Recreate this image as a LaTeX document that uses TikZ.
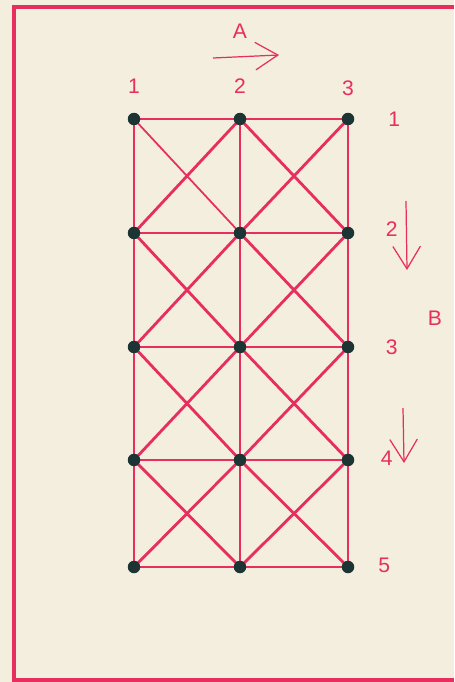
\documentclass[tikz,border=0pt]{standalone}
\usepackage{fontspec}
\setsansfont{Liberation Sans}
\usetikzlibrary{arrows.meta,positioning}

\definecolor{paper}{RGB}{243,238,221}
\definecolor{ink}{RGB}{232,45,95}
\definecolor{joint}{RGB}{28,52,52}

\begin{document}
\begin{tikzpicture}[
    x=0.02cm, y=-0.02cm,
    bar/.style={draw=ink, line width=1.6pt},
    thinbar/.style={draw=ink, line width=1.0pt},
    joint/.style={circle, fill=joint, minimum size=0.25cm, inner sep=0},
    tag/.style={font=\sffamily\large, text=ink},
    sweep/.style={draw=ink, line width=0.7pt, -{Straight Barb[length=4.5mm, width=5.5mm]}}
]

% Paper and frame
\fill[paper] (0,0) rectangle (454,682);
\useasboundingbox (0,0) rectangle (454,682);
\draw[ink, line width=1.8pt] (454,7) -- (14,7) -- (14,680) -- (454,680);

% Joints
\foreach \c/\x in {1/134, 2/240, 3/348} {
    \foreach \r/\y in {1/119, 2/233, 3/347, 4/460, 5/567} {
        \coordinate (p\c\r) at (\x,\y);
    }
}

% Horizontal and vertical bars
\foreach \r in {1,...,5} {
    \draw[bar] (p1\r) -- (p2\r) -- (p3\r);
}
\foreach \c in {1,2,3} {
    \draw[bar] (p\c1) -- (p\c2) -- (p\c3) -- (p\c4) -- (p\c5);
}

% Diagonals (each panel crossed)
\foreach \c/\d in {1/2, 2/3} {
    \foreach \r/\s in {1/2, 2/3, 3/4, 4/5} {
        \draw[bar] (p\d\r) -- (p\c\s);
        \ifnum\c\r=11
            \draw[thinbar] (p\c\r) -- (p\d\s);
        \else
            \draw[bar] (p\c\r) -- (p\d\s);
        \fi
    }
}

\foreach \c in {1,2,3} {
    \foreach \r in {1,...,5} {
        \node[joint] (n\c\r) at (p\c\r) {};
    }
}

% Column numbers
\node[tag, above=0.25cm of n11] (c1) {1};
\node[tag, above=0.25cm of n21] (c2) {2};
\node[tag, above=0.2cm of n31] (c3) {3};

% Row numbers
\node[tag, right=0.55cm of n31] (r1) {1};
\node[tag, right=0.5cm of n32, yshift=2pt] (r2) {2};
\node[tag, right=0.5cm of n33] (r3) {3};
\node[tag, right=0.4cm of n34, yshift=1pt] (r4) {4};
\node[tag, right=0.35cm of n35, yshift=1pt] (r5) {5};

% Direction A
\node[tag] (A) at (240,31) {A};
\coordinate (a0) at (213,58);
\coordinate (a1) at (279,55);
\draw[sweep] (a0) -- (a1);

% Direction B
\node[tag] (B) at (435,318) {B};
\coordinate (b0) at (406,201);
\coordinate (b1) at (407,270);
\draw[sweep] (b0) -- (b1);
\coordinate (b2) at (403,408);
\coordinate (b3) at (404,463);
\draw[sweep] (b2) -- (b3);

\end{tikzpicture}
\end{document}
